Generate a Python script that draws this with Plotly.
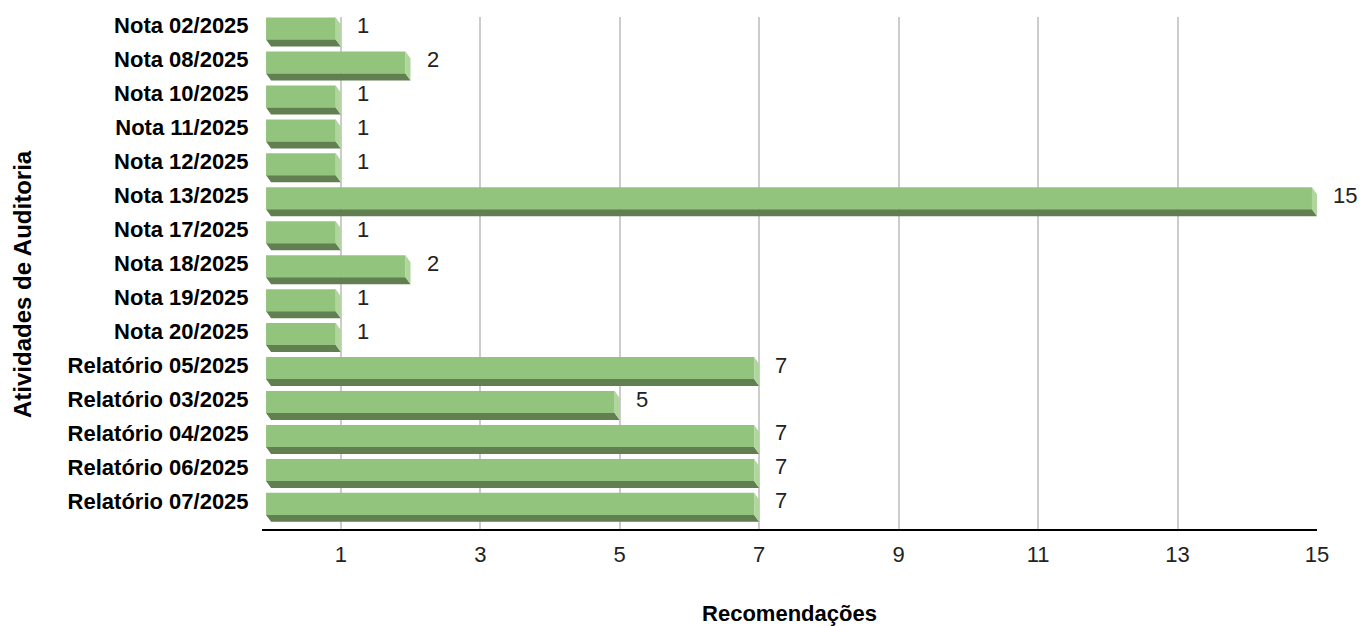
import plotly.graph_objects as go

categories = ["Nota 02/2025", "Nota 08/2025", "Nota 10/2025", "Nota 11/2025", "Nota 12/2025",
              "Nota 13/2025", "Nota 17/2025", "Nota 18/2025", "Nota 19/2025", "Nota 20/2025",
              "Relatório 05/2025", "Relatório 03/2025", "Relatório 04/2025", "Relatório 06/2025",
              "Relatório 07/2025"]
values = [1, 2, 1, 1, 1, 15, 1, 2, 1, 1, 7, 5, 7, 7, 7]
x_ticks = [1, 3, 5, 7, 9, 11, 13, 15]

FRONT = "#93c47d"
BOTTOM = "#617f50"
SIDE = "#b0d69e"

dx = 0.072   # depth offset along value axis
dy = 0.206   # depth offset along category axis
hw = 0.324   # half height of front face

pos = list(range(len(categories)))

# bottom faces
bx, by = [], []
for i, v in zip(pos, values):
    bx += [-dx, v - dx, v, 0, -dx, None]
    by += [i + hw, i + hw, i + hw + dy, i + hw + dy, i + hw, None]
# right side faces
sx, sy = [], []
for i, v in zip(pos, values):
    sx += [v - dx, v, v, v - dx, v - dx, None]
    sy += [i - hw, i - hw + dy, i + hw + dy, i + hw, i - hw, None]

fig = go.Figure()
fig.add_trace(go.Bar(
    y=pos, x=values, base=[-dx] * len(values), orientation="h",
    width=2 * hw, marker=dict(color=FRONT, line=dict(width=0)),
    hoverinfo="skip", showlegend=False))
fig.add_trace(go.Scatter(x=bx, y=by, fill="toself", mode="lines", fillcolor=BOTTOM,
                         line=dict(width=0, color=BOTTOM), hoverinfo="skip", showlegend=False))
fig.add_trace(go.Scatter(x=sx, y=sy, fill="toself", mode="lines", fillcolor=SIDE,
                         line=dict(width=0, color=SIDE), hoverinfo="skip", showlegend=False))

for i, v in zip(pos, values):
    fig.add_annotation(x=v, y=i, text=str(v), showarrow=False, xanchor="left",
                       yanchor="middle", xshift=14, yshift=3,
                       font=dict(family="Arial, Liberation Sans", size=22, color="#222222"))

fig.add_annotation(text="<b>Atividades de Auditoria</b>", xref="paper", yref="paper",
                   x=(22 - 262) / 1055, y=(529 - 284) / 512, xanchor="center", yanchor="middle",
                   textangle=-90, showarrow=False,
                   font=dict(family="Arial, Liberation Sans", size=24, color="#000000"))

fig.update_layout(
    width=1362, height=626,
    margin=dict(l=262, r=45, t=17, b=97),
    paper_bgcolor="white", plot_bgcolor="white",
    barmode="overlay",
    xaxis=dict(range=[-0.13, 15.0], tickvals=x_ticks, ticktext=[str(t) for t in x_ticks],
               automargin=False,
               showgrid=True, gridcolor="#cccccc", gridwidth=2, zeroline=False,
               showline=True, linecolor="#000000", linewidth=2,
               ticks="outside", ticklen=5, tickcolor="rgba(0,0,0,0)",
               tickfont=dict(family="Arial, Liberation Sans", size=22, color="#222222"),
               title=dict(text="<b>Recomendações</b>", standoff=45,
                          font=dict(family="Arial, Liberation Sans", size=22, color="#000000"))),
    yaxis=dict(range=[14.74, -0.34], tickvals=pos, ticktext=[f"<b>{c}</b>" for c in categories],
               automargin=False, ticklabelshift=3,
               showgrid=False, zeroline=False, showline=False,
               ticks="outside", ticklen=8, tickcolor="rgba(0,0,0,0)",
               tickfont=dict(family="Arial, Liberation Sans", size=22, color="#000000")),
)

fig.write_html("out.html")
